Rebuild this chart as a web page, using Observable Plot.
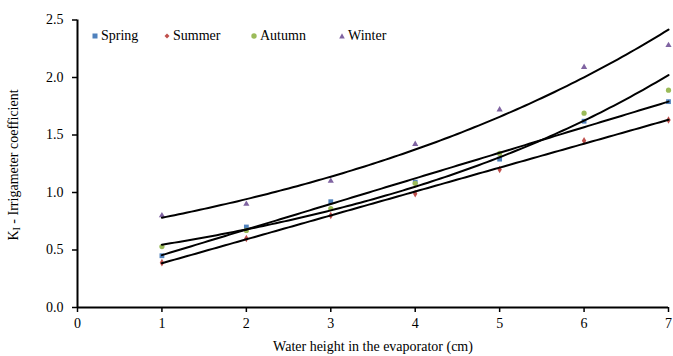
<!DOCTYPE html>
<html>
<head>
<meta charset="utf-8">
<script src="https://cdn.jsdelivr.net/npm/d3@7"></script>
<script src="https://cdn.jsdelivr.net/npm/@observablehq/plot@0.6"></script>
<style>
  html, body { margin: 0; padding: 0; background: #fff; }
  #wrap { position: relative; width: 673px; height: 356px; font-family: "Liberation Serif", "Times New Roman", serif; }
  #legend { position: absolute; left: 0; top: 0; width: 673px; height: 0; }
  .item { position: absolute; top: 27px; height: 18px; display: flex; align-items: center; font-size: 14px; color: #000; white-space: nowrap; }
  .item svg { margin-right: 2px; }
</style>
</head>
<body>
<div id="wrap"><div id="legend"></div></div>
<script>
// ---- data ----
const heights = [1, 2, 3, 4, 5, 6, 7];
const spring = [0.45, 0.70, 0.92, 1.09, 1.29, 1.62, 1.79];
const summer = [0.39, 0.60, 0.80, 0.99, 1.20, 1.45, 1.63];
const autumn = [0.53, 0.67, 0.86, 1.08, 1.34, 1.69, 1.89];
const winter = [0.80, 0.90, 1.10, 1.42, 1.72, 2.09, 2.28];
const seriesNames = ["Spring", "Summer", "Autumn", "Winter"];
const trendTypes = ["linear", "linear", "exponential", "exponential"];
const seriesColors = ["#4F81BD", "#C0504D", "#9BBB59", "#8064A2"];
const seriesSymbols = ["square", "diamond", "circle", "triangle"];
const xTicks = [0, 1, 2, 3, 4, 5, 6, 7];
const yTicks = [0, 0.5, 1.0, 1.5, 2.0, 2.5];
const xTitle = "Water height in the evaporator (cm)";

const seriesValues = [spring, summer, autumn, winter];
const markerR = [2.7, 2.3, 2.6, 2.3];

// points table
const points = [];
seriesNames.forEach((s, i) => heights.forEach((h, j) => points.push({series: s, x: h, y: seriesValues[i][j]})));

// least-squares trend lines (linear / exponential, as in a spreadsheet trendline)
function fit(xv, yv, type) {
  const ty = type === "exponential" ? yv.map(Math.log) : yv;
  const mx = d3.mean(xv), my = d3.mean(ty);
  let sxy = 0, sxx = 0;
  xv.forEach((x, k) => { sxy += (x - mx) * (ty[k] - my); sxx += (x - mx) ** 2; });
  const b = sxy / sxx, a = my - b * mx;
  return type === "exponential" ? (x) => Math.exp(a + b * x) : (x) => a + b * x;
}
const trend = [];
seriesNames.forEach((s, i) => {
  const f = fit(heights, seriesValues[i], trendTypes[i]);
  const x0 = d3.min(heights), x1 = d3.max(heights);
  for (let k = 0; k <= 120; k++) {
    const x = x0 + (x1 - x0) * k / 120;
    trend.push({series: s, x, y: f(x)});
  }
});

const chart = Plot.plot({
  width: 673,
  height: 356,
  marginLeft: 77,
  marginRight: 5,
  marginTop: 19.5,
  marginBottom: 49,
  style: {fontFamily: "'Liberation Serif', 'Times New Roman', serif", fontSize: "14px", color: "#000", background: "#fff"},
  x: {domain: [0, 7]},
  y: {domain: [0, 2.5]},
  color: {domain: seriesNames, range: seriesColors},
  symbol: {domain: seriesNames, range: seriesSymbols},
  marks: [
    ...seriesNames.map((s, i) => Plot.dot(points.filter(d => d.series === s), {x: "x", y: "y", fill: "series", symbol: "series", r: markerR[i], stroke: null})),
    Plot.line(trend, {x: "x", y: "y", z: "series", stroke: "#000", strokeWidth: 2}),
    Plot.axisX({ticks: xTicks, tickSize: 5, tickPadding: 6, tickFormat: d3.format("d"), label: null, strokeWidth: 1.5}),
    Plot.axisY({ticks: yTicks, tickSize: 5, tickPadding: 9, tickFormat: d3.format(".1f"), label: null, strokeWidth: 1.5}),
    Plot.ruleY([0], {stroke: "#000", strokeWidth: 2}),
    Plot.ruleX([0], {stroke: "#000", strokeWidth: 2})
  ]
});

const wrap = document.getElementById("wrap");
wrap.insertBefore(chart, wrap.firstChild);

// axis titles
const svg = d3.select(chart);
svg.append("text")
  .attr("x", 373).attr("y", 348)
  .attr("text-anchor", "middle").attr("dominant-baseline", "middle")
  .attr("font-size", 14).attr("fill", "#000")
  .text(xTitle);
const yt = svg.append("text")
  .attr("transform", "translate(15,165) rotate(-90)")
  .attr("text-anchor", "middle").attr("dominant-baseline", "middle")
  .attr("font-size", 14).attr("fill", "#000");
yt.append("tspan").text("K");
yt.append("tspan").attr("font-size", 10).attr("dy", 3).text("I");
yt.append("tspan").attr("dy", -3).text(" - Irrigameter coefficient");

// legend
const legendLeft = [91, 163, 250, 338];
const legend = document.getElementById("legend");
const shapes = {
  square: '<rect x="1.5" y="1.5" width="5" height="5"/>',
  diamond: '<path d="M4 1.5 L6.5 4 L4 6.5 L1.5 4 Z"/>',
  circle: '<circle cx="4" cy="4" r="2.7"/>',
  triangle: '<path d="M4 1.3 L6.8 6.5 L1.2 6.5 Z"/>'
};
seriesNames.forEach((s, i) => {
  const d = document.createElement("div");
  d.className = "item";
  d.style.left = legendLeft[i] + "px";
  d.innerHTML = `<svg width="8" height="8" viewBox="0 0 8 8" fill="${seriesColors[i]}">${shapes[seriesSymbols[i]]}</svg>${s}`;
  legend.appendChild(d);
});
</script>
</body>
</html>
